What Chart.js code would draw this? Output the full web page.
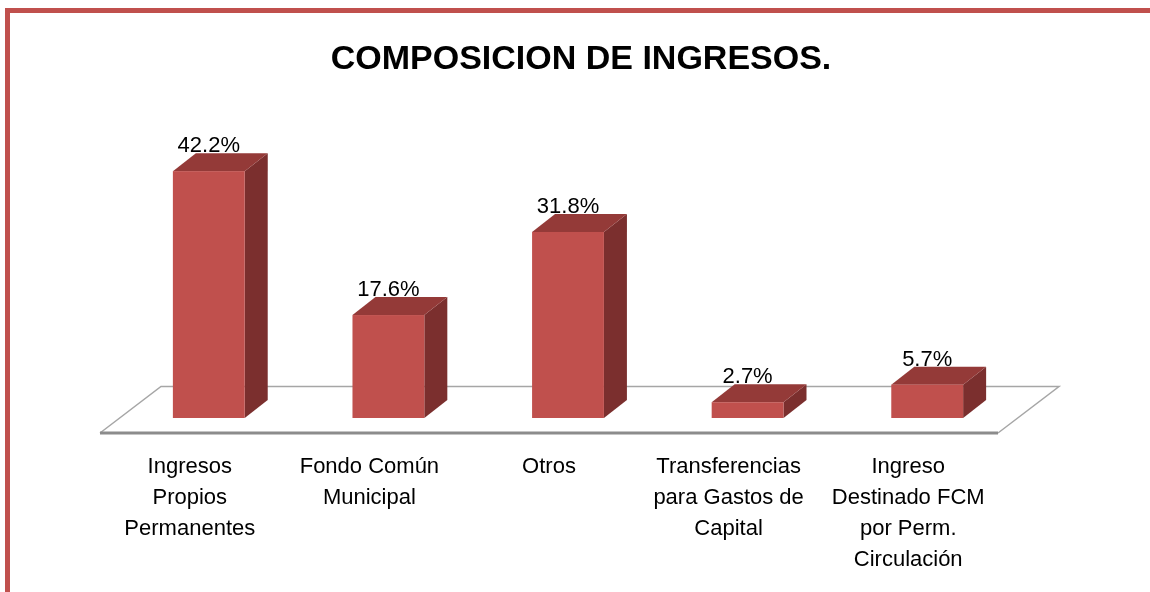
<!DOCTYPE html>
<html>
<head>
<meta charset="utf-8">
<script src="https://cdn.jsdelivr.net/npm/chart.js@4/dist/chart.umd.min.js"></script>
<style>
  html, body { margin: 0; padding: 0; background: #fff; }
  #wrap { width: 1150px; height: 592px; }
</style>
</head>
<body>
<div id="wrap"><canvas id="myChart"></canvas></div>
<script>
const chartTitle = 'COMPOSICION DE INGRESOS.';
const categories = [
  ['Ingresos', 'Propios', 'Permanentes'],
  ['Fondo Común', 'Municipal'],
  ['Otros'],
  ['Transferencias', 'para Gastos de', 'Capital'],
  ['Ingreso', 'Destinado FCM', 'por Perm.', 'Circulación']
];
const values = [42.2, 17.6, 31.8, 2.7, 5.7];

// 3d look
const FRONT = '#C0504D', TOP = '#943A38', SIDE = '#7B2F2E';
const DX = 23, DY = 18;      // bar depth
const SHIFT = 19;            // bar front face shift from category centre
const FLOOR_DX = 61, FLOOR_FRONT = 15, FLOOR_BACK = 31.5;

const fake3d = {
  id: 'fake3d',
  beforeDraw(chart) {
    const ctx = chart.ctx;
    ctx.save();
    ctx.fillStyle = '#fff';
    ctx.fillRect(0, 0, chart.width, chart.height);
    // red frame (cut at right and bottom)
    ctx.strokeStyle = '#C0504D';
    ctx.lineWidth = 5;
    ctx.beginPath();
    ctx.moveTo(7.5, chart.height + 10);
    ctx.lineTo(7.5, 10.5);
    ctx.lineTo(chart.width + 10, 10.5);
    ctx.stroke();
    // title
    ctx.fillStyle = '#000';
    ctx.font = 'bold 34px "Liberation Sans"';
    ctx.textAlign = 'center';
    ctx.textBaseline = 'middle';
    ctx.fillText(chartTitle, 581, 60);
    ctx.restore();
  },
  beforeDatasetsDraw(chart) {
    const ctx = chart.ctx;
    const a = chart.chartArea;
    const fy = a.bottom + FLOOR_FRONT, by = a.bottom - FLOOR_BACK;
    ctx.save();
    ctx.strokeStyle = '#a6a6a6';
    ctx.lineWidth = 1.5;
    ctx.beginPath();
    ctx.moveTo(a.left, fy);
    ctx.lineTo(a.left + FLOOR_DX, by);
    ctx.lineTo(a.right + FLOOR_DX, by);
    ctx.lineTo(a.right, fy);
    ctx.stroke();
    ctx.strokeStyle = '#8c8c8c';
    ctx.lineWidth = 3;
    ctx.beginPath();
    ctx.moveTo(a.left, fy);
    ctx.lineTo(a.right, fy);
    ctx.stroke();
    ctx.restore();
  },
  afterDatasetsDraw(chart) {
    const ctx = chart.ctx;
    const meta = chart.getDatasetMeta(0);
    ctx.save();
    meta.data.forEach((bar, i) => {
      const w = bar.width;
      const x0 = bar.x + SHIFT - w / 2, x1 = x0 + w;
      const top = bar.y, base = bar.base;
      // side
      ctx.fillStyle = SIDE;
      ctx.beginPath();
      ctx.moveTo(x1, top);
      ctx.lineTo(x1 + DX, top - DY);
      ctx.lineTo(x1 + DX, base - DY);
      ctx.lineTo(x1, base);
      ctx.closePath();
      ctx.fill();
      // top
      ctx.fillStyle = TOP;
      ctx.beginPath();
      ctx.moveTo(x0, top);
      ctx.lineTo(x0 + DX, top - DY);
      ctx.lineTo(x1 + DX, top - DY);
      ctx.lineTo(x1, top);
      ctx.closePath();
      ctx.fill();
      // front
      ctx.fillStyle = FRONT;
      ctx.fillRect(x0, top, w, base - top);
      // value label
      ctx.fillStyle = '#000';
      ctx.font = '22px "Liberation Sans"';
      ctx.textAlign = 'center';
      ctx.textBaseline = 'alphabetic';
      ctx.fillText(values[i].toFixed(1) + '%', x0 + w / 2, top - DY - 1);
    });
    ctx.restore();
  }
};

const data = {
  labels: categories,
  datasets: [{
    data: values,
    backgroundColor: 'rgba(0,0,0,0)',
    borderWidth: 0,
    barPercentage: 0.4,
    categoryPercentage: 1.0
  }]
};

const config = {
  type: 'bar',
  data: data,
  options: {
    responsive: true,
    maintainAspectRatio: false,
    animation: false,
    layout: { padding: { top: 125.5, left: 100, right: 152, bottom: 0 } },
    plugins: {
      legend: { display: false },
      title: { display: false },
      tooltip: { enabled: false }
    },
    scales: {
      x: {
        grid: { display: false },
        border: { display: false },
        afterFit(scale) { scale.height = 174; },
        ticks: {
          color: '#000',
          padding: 25.5,
          maxRotation: 0,
          autoSkip: false,
          font: { family: 'Liberation Sans', size: 22, lineHeight: '31px' }
        }
      },
      y: { display: false, min: 0, max: 50 }
    }
  },
  plugins: [fake3d]
};

const myChart = new Chart(document.getElementById('myChart'), config);
</script>
</body>
</html>
